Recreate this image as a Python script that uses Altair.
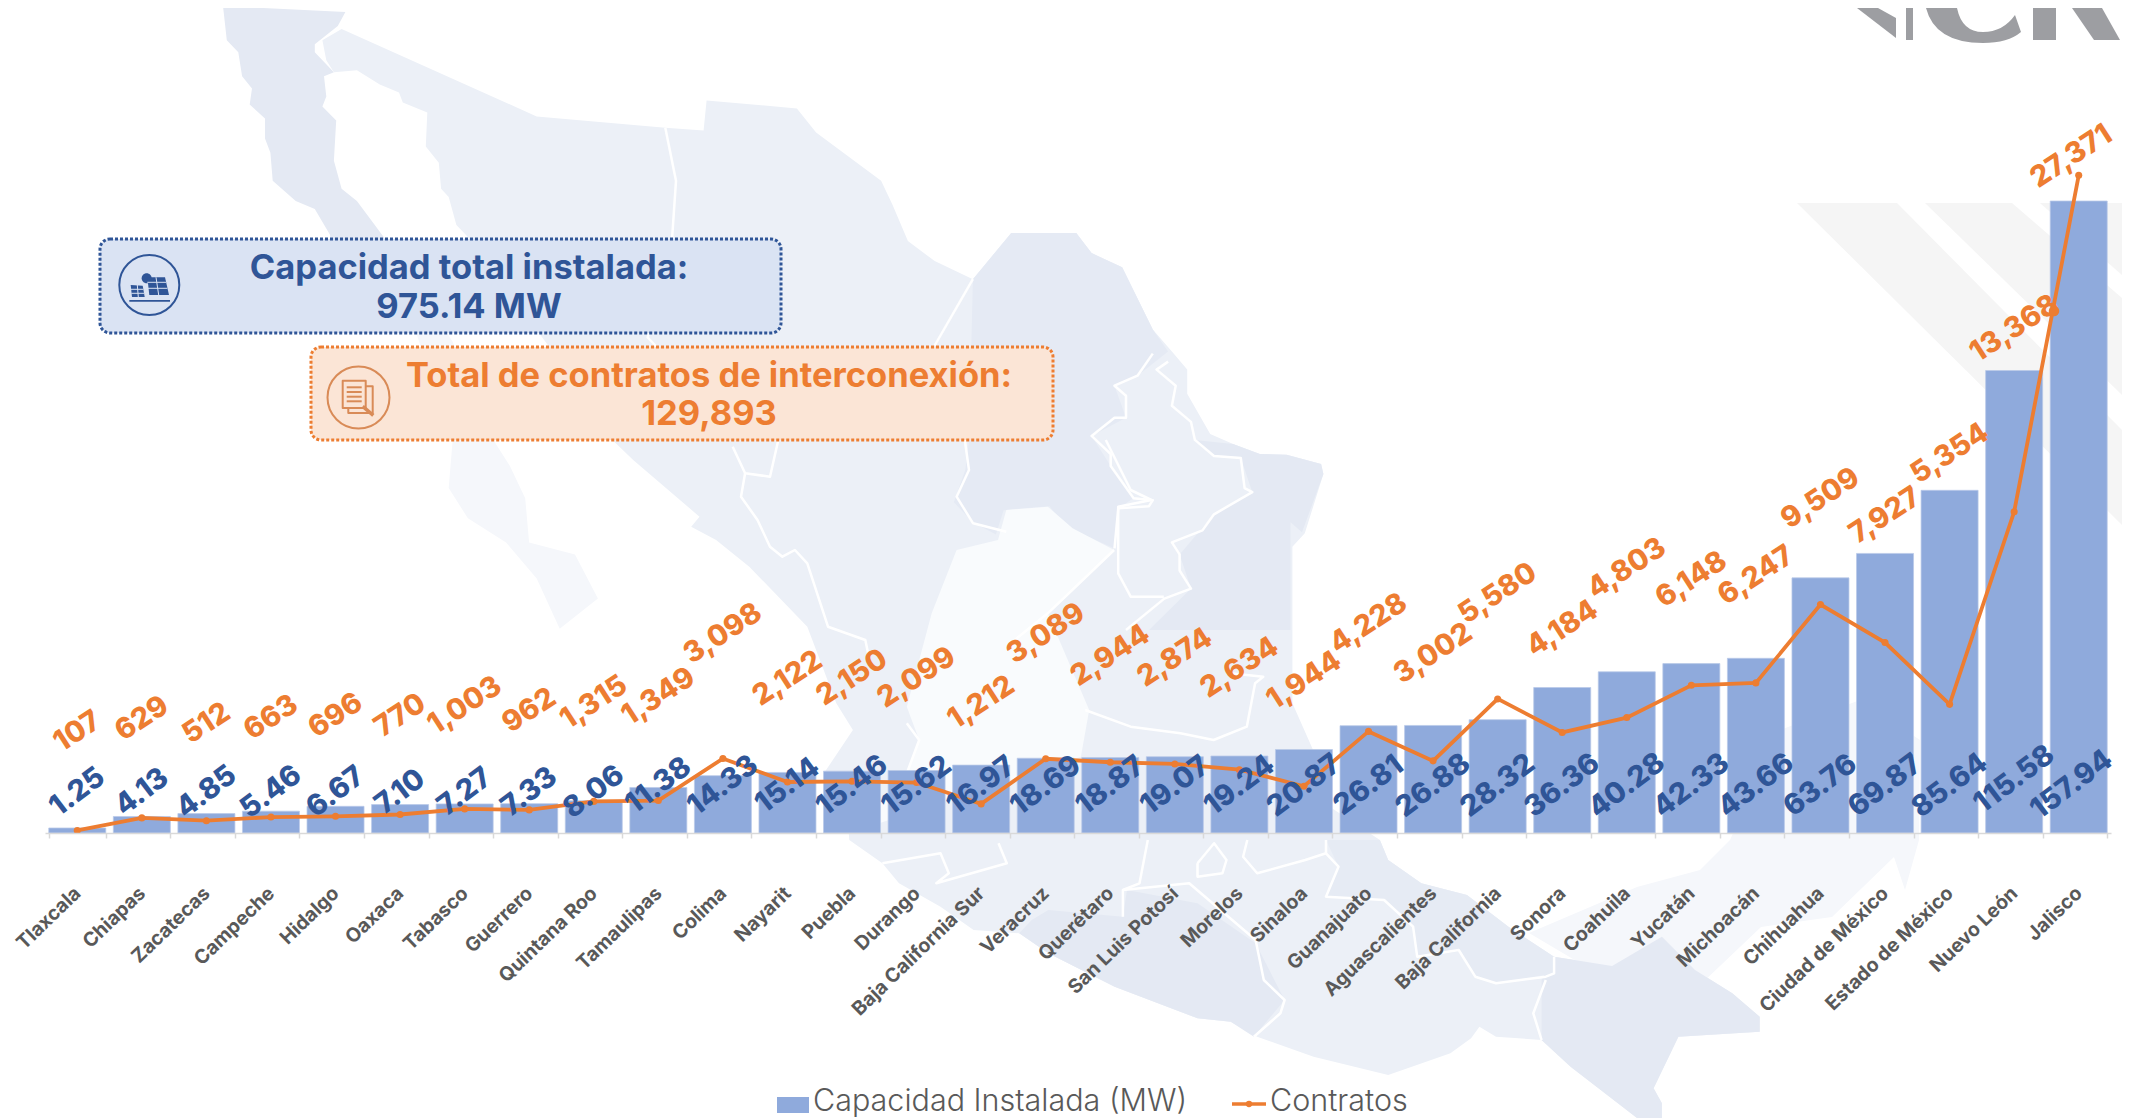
import altair as alt
import pandas as pd

states = ["Tlaxcala", "Chiapas", "Zacatecas", "Campeche", "Hidalgo", "Oaxaca", "Tabasco", "Guerrero",
          "Quintana Roo", "Tamaulipas", "Colima", "Nayarit", "Puebla", "Durango", "Baja California Sur",
          "Veracruz", "Querétaro", "San Luis Potosí", "Morelos", "Sinaloa", "Guanajuato", "Aguascalientes",
          "Baja California", "Sonora", "Coahuila", "Yucatán", "Michoacán", "Chihuahua", "Ciudad de México",
          "Estado de México", "Nuevo León", "Jalisco"]
capacity = [1.25, 4.13, 4.85, 5.46, 6.67, 7.10, 7.27, 7.33, 8.06, 11.38, 14.33, 15.14, 15.46, 15.62, 16.97,
            18.69, 18.87, 19.07, 19.24, 20.87, 26.81, 26.88, 28.32, 36.36, 40.28, 42.33, 43.66, 63.76,
            69.87, 85.64, 115.58, 157.94]
contracts = [107, 629, 512, 663, 696, 770, 1003, 962, 1315, 1349, 3098, 2122, 2150, 2099, 1212, 3089, 2944,
             2874, 2634, 1944, 4228, 3002, 5580, 4184, 4803, 6148, 6247, 9509, 7927, 5354, 13368, 27371]
# the source places each contract label by hand: height of its centre on the page
label_centre = [731, 718, 723, 717, 715, 715, 705, 710, 702, 696, 633, 678, 677, 677, 702, 633, 655, 657,
                667, 680, 623, 653, 593, 628, 568, 579, 575, 498, 515, 453, 328, 151]

BLUE, ORANGE, BAR, GREY = "#2F5597", "#ED7D31", "#8FAADC", "#595959"
FONT = "Inter"
OX, OY = 45, 8          # page position of the plot origin
W, H = 2066, 825
CAP_PX = 4.0015         # pixels per MW
CON_PX = 0.02403        # pixels per contract
CAP_MAX = H / CAP_PX
CON_MAX = H / CON_PX
PATH_SIZE = 4           # a custom symbol of size 4 draws its path at 1:1


def z5(p): return (200 + p[0] / 1.3067, p[1] / 2.489)
def z11(p): return (700 + p[0] / 1.206, 840 + p[1] / 3)
def z12(p): return (600 + p[0] / 1.206, 440 + p[1] / 3)
def z9(p): return (110 + p[0] / 3, 245 + p[1] / 3)
def z10(p): return (320 + p[0] / 3, 358 + p[1] / 3)
def same(p): return p


def path(pts, f=same, close=True):
    q = [f(p) for p in pts]
    s = "M" + " L".join(f"{x - OX:.1f},{y - OY:.1f}" for x, y in q)
    return s + (" Z" if close else "")


def circle(cx, cy, r):
    x, y = cx - OX, cy - OY
    return f"M{x - r},{y} A{r},{r} 0 1 0 {x + r},{y} A{r},{r} 0 1 0 {x - r},{y} Z"


one = pd.DataFrame({"k": [0]})


def fill_shape(d, color):
    return alt.Chart(one).mark_point(shape=d, size=PATH_SIZE, filled=True, fill=color, opacity=1, strokeWidth=0).encode(
        x=alt.value(0), y=alt.value(0))


def line_shape(d, color="#FFFFFF", width=2.5):
    return alt.Chart(one).mark_point(shape=d, size=PATH_SIZE, filled=False, stroke=color, opacity=1, strokeWidth=width,
                                     strokeJoin="round").encode(x=alt.value(0), y=alt.value(0))


def note(text, x, y, color, size, weight=700, align="center"):
    return alt.Chart(one).mark_text(text=text, font=FONT, fontSize=size, fontWeight=weight, color=color,
                                    align=align, baseline="middle").encode(
        x=alt.value(x - OX), y=alt.value(y - OY))


def box(x0, x1, y0, y1, fill, stroke):
    return alt.Chart(one).mark_rect(fill=fill, stroke=stroke, strokeWidth=3, strokeDash=[3, 2], cornerRadius=10,
                                    opacity=1).encode(
        x=alt.value(x0 - OX), x2=alt.value(x1 - OX), y=alt.value(y0 - OY), y2=alt.value(y1 - OY))


# ---- background map ----
MAIN = "#ECF0F7"
DARK = "#E4E9F3"
PALE = "#F5F7FB"
LIGHT = "#F9FBFD"
map_layers = []
baja_n = [(30, 15), (190, 30), (180, 65), (150, 110), (150, 130), (175, 180), (162, 190), (165, 240), (160, 265),
          (178, 300), (175, 400), (185, 470), (205, 500), (240, 590), (260, 700), (170, 640), (170, 585), (150, 520),
          (125, 500), (95, 450), (92, 380), (85, 345), (85, 295), (65, 260), (68, 220), (55, 190), (50, 130), (35, 100)]
baja_s = [(240, 590), (330, 850), (385, 1100), (405, 1160), (425, 1240), (430, 1350), (490, 1380), (520, 1490),
          (470, 1565), (440, 1440), (400, 1350), (350, 1290), (325, 1215), (330, 1100), (260, 700)]
mainland_top = [(185, 72), (440, 290), (608, 318), (658, 325), (662, 250), (780, 270), (805, 330), (890, 450),
                (905, 510), (925, 600), (960, 650), (1010, 695), (1060, 580), (1145, 580), (1165, 630), (1205, 665),
                (1245, 820), (1270, 875), (1290, 920), (1290, 980), (1320, 1080), (1350, 1105), (1385, 1130),
                (1420, 1132), (1465, 1155), (1468, 1180)]
mainland_east = [(850, 280), (835, 320), (835, 790), (860, 930), (880, 1100)]
mainland_south = [(820, 0), (830, 60), (870, 130), (925, 165), (975, 260), (1030, 350), (1100, 378), (1160, 290),
                  (1200, 390), (1245, 460), (1278, 530), (1278, 575), (1180, 590), (1150, 745), (1160, 790),
                  (1160, 834), (1130, 834), (1050, 680), (1015, 600), (960, 590), (940, 560), (930, 595), (905, 640),
                  (830, 705), (740, 650), (672, 590), (640, 545), (600, 535), (500, 440), (420, 340), (385, 280),
                  (330, 270), (290, 200), (240, 130), (220, 70), (180, 0)]
mainland_west = [(300, 1180), (270, 1000), (305, 870), (285, 790), (250, 560), (180, 380), (140, 300), (110, 260),
                 (120, 230), (40, 60), (15, 0)]
mainland_nw = [(455, 860), (350, 590), (335, 560), (325, 490), (315, 470), (312, 405), (295, 365), (297, 280),
               (265, 255), (260, 230), (235, 210), (205, 175), (175, 180), (165, 150), (160, 100)]
mainland = ([z5(p) for p in mainland_top] + [z12(p) for p in mainland_east] + [z11(p) for p in mainland_south] +
            [z12(p) for p in mainland_west] + [z5(p) for p in mainland_nw])
east_pale = [(1730, 840), (1780, 730), (1860, 700), (1920, 740), (1919, 840), (1905, 890), (1894, 857), (1832, 917),
             (1761, 927), (1700, 985), (1600, 975), (1529, 933), (1637, 887), (1700, 870)]
coahuila = [(1010, 695), (1060, 580), (1145, 580), (1165, 630), (1205, 665), (1245, 820), (1265, 875), (1225, 935),
            (1195, 960), (1210, 1040), (1165, 1085), (1190, 1160), (1220, 1240), (1200, 1265), (1195, 1365),
            (1130, 1310), (1110, 1260), (1050, 1270), (1040, 1330), (1010, 1300), (985, 1250), (1000, 1170), (1005, 1095)]
tamaulipas = [(1300, 1095), (1350, 1105), (1385, 1130), (1420, 1132), (1465, 1155), (1468, 1180), (1440, 1325),
              (1425, 1300), (1425, 1568), (1240, 1568), (1295, 1465), (1280, 1380), (1325, 1280), (1375, 1225),
              (1360, 1140), (1325, 1135)]
centre_light = [(490, 210), (540, 200), (570, 265), (620, 330), (540, 520), (590, 810), (580, 950), (300, 1180),
                (370, 1000), (385, 900), (370, 800), (400, 520), (430, 330), (480, 300)]
guerrero = [(420, 210), (510, 230), (515, 150), (600, 190), (670, 310), (705, 480), (668, 590), (640, 545), (600, 535),
            (500, 440), (420, 340), (385, 280), (400, 240)]
chiapas = [(1030, 350), (1100, 378), (1160, 290), (1200, 390), (1245, 460), (1278, 530), (1278, 575), (1180, 590),
           (1150, 745), (1160, 790), (1160, 834), (1130, 834), (1050, 680), (1015, 600), (1015, 420)]
veracruz = [(755, 0), (820, 0), (830, 60), (870, 130), (925, 165), (975, 260), (1030, 350), (1030, 400), (960, 430),
            (935, 410), (915, 335), (865, 350), (860, 260), (825, 180), (755, 170), (770, 80)]
map_layers += [fill_shape(path(baja_n, z5), DARK), fill_shape(path(baja_s, z5), PALE),
               fill_shape(path(mainland), MAIN), fill_shape(path(east_pale), PALE),
               fill_shape(path(coahuila, z5), "#E5EAF4"), fill_shape(path(tamaulipas, z5), DARK),
               fill_shape(path(centre_light, z12), LIGHT), fill_shape(path(guerrero, z11), DARK),
               fill_shape(path(chiapas, z11), DARK), fill_shape(path(veracruz, z11), "#E6EBF4")]
borders_z5 = [[(608, 318), (622, 450), (617, 590), (585, 840), (600, 870)], [(1010, 695), (960, 860)],
              [(1245, 880), (1225, 935), (1195, 960), (1210, 985), (1210, 1040), (1195, 1040), (1165, 1085), (1190, 1130),
               (1190, 1160), (1220, 1240), (1245, 1245), (1240, 1260), (1200, 1265), (1195, 1365)],
              [(1265, 900), (1250, 920), (1275, 960), (1270, 1010), (1295, 1050), (1300, 1095), (1325, 1135), (1360, 1140),
               (1365, 1215), (1375, 1225), (1325, 1280), (1310, 1320), (1270, 1350), (1280, 1380), (1280, 1420),
               (1295, 1465), (1260, 1490), (1210, 1568)]]
borders_z12 = [[(440, 0), (445, 90), (430, 170), (450, 250), (490, 275)], [(610, 0), (640, 150), (665, 180), (625, 200),
               (625, 400), (640, 470), (680, 470)], [(160, 20), (175, 100), (205, 110), (215, 0)],
               [(175, 100), (170, 170), (190, 240), (205, 320), (220, 350), (235, 330), (250, 370), (275, 560), (320, 600), (325, 660)],
               [(620, 330), (540, 520), (500, 600)], [(585, 810), (640, 860), (700, 880), (740, 900), (780, 860), (790, 730), (800, 710), (760, 700)],
               [(370, 850), (385, 900), (370, 1000)]]
borders_z11 = [[(540, 0), (530, 130), (510, 150), (510, 230)], [(510, 150), (590, 130), (670, 300), (680, 420), (705, 480), (700, 520), (668, 590)],
               [(755, 0), (755, 40), (770, 80), (755, 170), (825, 180), (860, 260), (865, 350), (915, 330), (935, 410), (960, 430), (1020, 410), (1030, 400), (1030, 350)],
               [(1020, 420), (1005, 520), (1015, 600)], [(660, 0), (655, 50), (672, 100), (730, 60), (755, 40)],
               [(600, 70), (620, 10), (635, 60), (630, 100), (600, 110), (600, 70)], [(220, 70), (290, 40), (300, 100), (285, 130), (370, 70), (360, 10)]]
for group, f in ((borders_z5, z5), (borders_z12, z12), (borders_z11, z11)):
    for b in group:
        map_layers.append(line_shape(path(b, f, close=False)))

# ---- watermark stripes and logo ----
STRIPE = "#F5F5F5"
LOGO = "#9D9EA2"
decor = [fill_shape(path([(1797, 203), (1897, 203), (2122, 430), (2122, 525)]), STRIPE),
         fill_shape(path([(1925, 203), (2012, 203), (2122, 298), (2122, 395)]), STRIPE),
         fill_shape(path([(2040, 203), (2122, 203), (2122, 275)]), STRIPE),
         fill_shape(path([(1857, 8), (1896, 38), (1896, 18), (1878, 8)]), LOGO),
         fill_shape(path([(1906, 8), (1913, 8), (1913, 40), (1906, 40)]), LOGO),
         fill_shape(f"M{1926 - OX},0 Q{1935 - OX},{43 - OY} {1983 - OX},{43 - OY} Q{2008 - OX},{43 - OY} {2021 - OX},{32 - OY} "
                    f"L{2015 - OX},{15 - OY} Q{2003 - OX},{32 - OY} {1983 - OX},{32 - OY} Q{1962 - OX},{32 - OY} {1957 - OX},0 Z", LOGO),
         fill_shape(path([(2033, 8), (2056, 8), (2056, 40), (2033, 40)]), LOGO),
         fill_shape(path([(2072, 8), (2102, 8), (2120, 40), (2094, 40)]), LOGO)]

# ---- summary boxes ----
ICON_B = BLUE
ICON_O = "#D98B57"
BOX_B = "#DAE3F3"
panel_left = [(62, 120), (98, 122), (104, 156), (66, 156)]
panel_right = [(112, 97), (165, 97), (177, 150), (118, 150)]
doc_front = [(68, 68), (137, 68), (137, 150), (68, 150)]
doc_back = [(137, 85), (158, 85), (158, 165), (85, 165), (85, 150)]
sun = z9((110, 100))
boxes = [box(100, 781, 239, 333, BOX_B, BLUE),
         box(311, 1053, 347, 440, "#FBE5D6", ORANGE),
         line_shape(circle(149.3, 285, 30), ICON_B, 2),
         fill_shape(circle(sun[0], sun[1], 5), ICON_B),
         fill_shape(path(panel_left, z9), ICON_B), fill_shape(path(panel_right, z9), ICON_B),
         line_shape(path([(62, 133), (100, 133)], z9, close=False), BOX_B, 1),
         line_shape(path([(64, 145), (102, 145)], z9, close=False), BOX_B, 1),
         line_shape(path([(82, 120), (85, 156)], z9, close=False), BOX_B, 1),
         line_shape(path([(112, 112), (168, 112)], z9, close=False), BOX_B, 1),
         line_shape(path([(114, 130), (172, 130)], z9, close=False), BOX_B, 1),
         line_shape(path([(138, 97), (146, 150)], z9, close=False), BOX_B, 1),
         fill_shape(path([(58, 165), (180, 165), (180, 170), (58, 170)], z9), ICON_B),
         line_shape(circle(358.5, 397.5, 31), ICON_O, 2),
         line_shape(path(doc_front, z10), ICON_O, 2), line_shape(path(doc_back, z10, close=False), ICON_O, 2),
         line_shape(path([(80, 88), (125, 88)], z10, close=False), ICON_O, 2),
         line_shape(path([(80, 102), (125, 102)], z10, close=False), ICON_O, 2),
         line_shape(path([(80, 116), (125, 116)], z10, close=False), ICON_O, 2),
         line_shape(path([(80, 130), (125, 130)], z10, close=False), ICON_O, 2),
         line_shape(path([(128, 145), (160, 172)], z10, close=False), ICON_O, 3.5),
         note("Capacidad total instalada:", 469, 269, BLUE, 34.5),
         note("975.14 MW", 469, 308, BLUE, 34.5),
         note("Total de contratos de interconexión:", 709, 377, ORANGE, 34.5),
         note("129,893", 709, 415, ORANGE, 34.5)]

# ---- data layers ----
point_y = [832.6 - CON_PX * v for v in contracts]
df = pd.DataFrame({
    "state": states, "capacity": capacity, "contracts": contracts,
    "cap_level": [(16 + 6.3 * len(f"{v:.2f}")) / CAP_PX for v in capacity],
    "con_level": [v - (c - p) / CON_PX for v, c, p in zip(contracts, label_centre, point_y)],
})
x_enc = alt.X("state:N", sort=states, title=None,
              scale=alt.Scale(paddingInner=0.117, paddingOuter=0.0585),
              axis=alt.Axis(labelAngle=-44, labelAlign="right", labelBaseline="middle", labelFont=FONT,
                            labelFontSize=19.5, labelFontWeight=700, labelColor=GREY, labelPadding=52,
                            labelOverlap=False, labelLimit=0, domainColor="#D9D9D9", domainWidth=1.5,
                            tickColor="#D9D9D9", tickSize=5, tickWidth=1.5, tickBand="extent", grid=False, zindex=1))
cap_scale = alt.Scale(domain=[0, CAP_MAX], nice=False, zero=True)
con_scale = alt.Scale(domain=[0, CON_MAX], nice=False, zero=True)
y_cap = alt.Y("capacity:Q", scale=cap_scale, axis=None)
y_con = alt.Y("contracts:Q", scale=con_scale, axis=None)

base = alt.Chart(df)
bars = base.mark_bar(color=BAR, opacity=1, stroke="#B9C9E8", strokeWidth=0.75).encode(x=x_enc, y=y_cap)
line = base.mark_line(color=ORANGE, strokeWidth=3.8).encode(x=x_enc, y=y_con)
dots = base.mark_circle(color=ORANGE, size=50, opacity=1).encode(x=x_enc, y=y_con)


def cap_text(test, dx):
    return base.transform_filter(test).mark_text(font=FONT, fontSize=29, fontWeight=800, color=BLUE, angle=323,
                                                 align="center", baseline="middle", dx=dx).encode(
        x=x_enc, y=alt.Y("cap_level:Q", scale=cap_scale, axis=None),
        text=alt.Text("capacity:Q", format=".2f"))


def con_text(test, dx):
    return base.transform_filter(test).mark_text(font=FONT, fontSize=29, fontWeight=800, color=ORANGE, angle=327,
                                                 align="center", baseline="middle", dx=dx).encode(
        x=x_enc, y=alt.Y("con_level:Q", scale=con_scale, axis=None),
        text=alt.Text("contracts:Q", format=",d"))


LAST = "datum.state == 'Jalisco'"
REST = "datum.state != 'Jalisco'"
stray = alt.Chart(one).mark_circle(color=ORANGE, size=110, opacity=1).encode(
    x=alt.value(2054 - OX), y=alt.value(311 - OY))

# ---- legend ----
legend = [alt.Chart(one).mark_rect(fill=BAR, opacity=1).encode(x=alt.value(777 - OX), x2=alt.value(809 - OX),
                                                               y=alt.value(1097 - OY), y2=alt.value(1113 - OY)),
          note("Capacidad Instalada (MW)", 813, 1102, GREY, 30.5, 300, "left"),
          alt.Chart(one).mark_rule(color=ORANGE, strokeWidth=3.6).encode(
              x=alt.value(1232 - OX), x2=alt.value(1266 - OX), y=alt.value(1104 - OY)),
          alt.Chart(one).mark_circle(color=ORANGE, size=40, opacity=1).encode(x=alt.value(1249 - OX), y=alt.value(1104 - OY)),
          note("Contratos", 1270, 1102, GREY, 30.5, 300, "left")]

chart = alt.layer(*map_layers, *decor, *boxes, bars, line, dots, stray,
                  cap_text(REST, 0), cap_text(LAST, -9), con_text(REST, 0), con_text(LAST, -9), *legend, data=df)
chart = chart.resolve_scale(y="independent").properties(
    width=W, height=H,
    padding={"left": 37, "top": 0, "right": 12, "bottom": 285},
    autosize=alt.AutoSizeParams(type="none"),
    background="white",
).configure_view(stroke=None)
chart.save("out.html", embed_options={"renderer": "svg", "actions": False})
